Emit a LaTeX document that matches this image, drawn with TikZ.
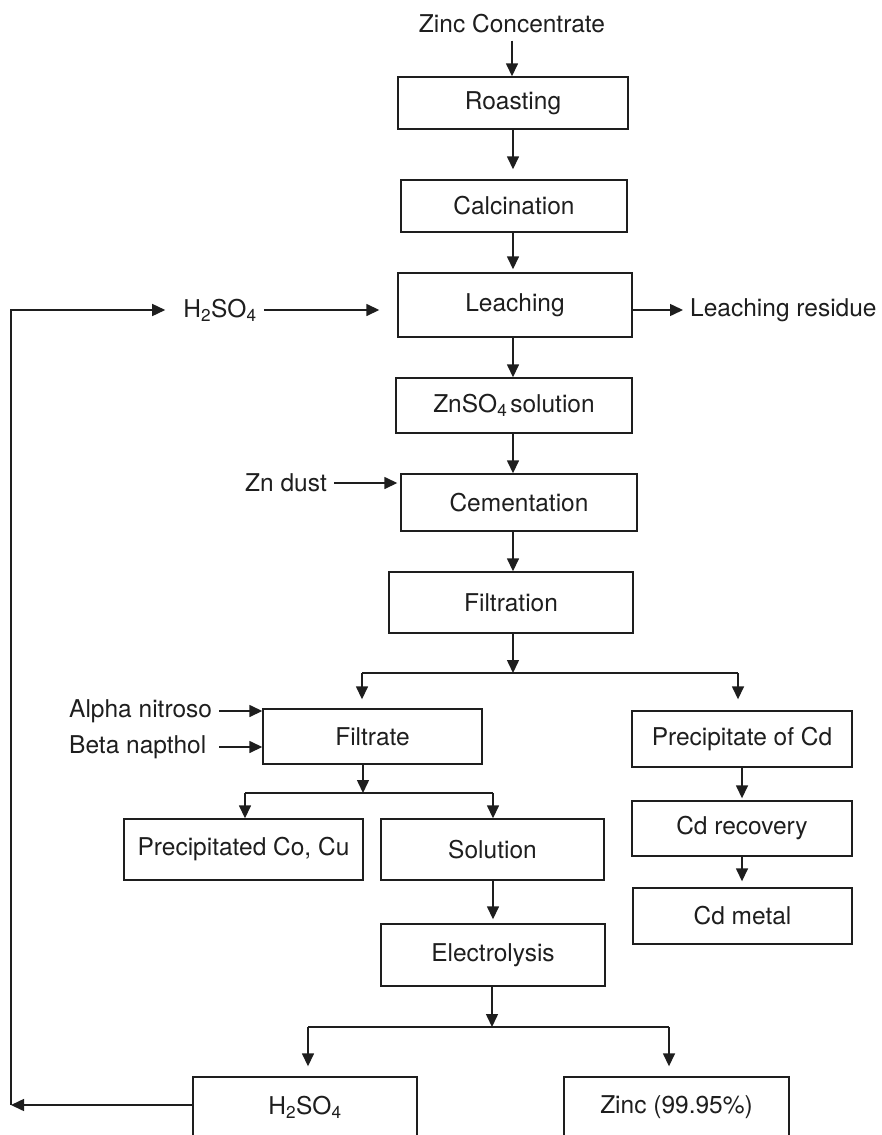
\documentclass[tikz,border=0pt]{standalone}
\usepackage{fontspec}
\setmainfont{TeX Gyre Heros}
\usetikzlibrary{arrows.meta}
\definecolor{ink}{HTML}{1E1E1E}
\begin{document}
\begin{tikzpicture}[x=1pt,y=-1pt,>={Triangle[length=13pt,width=12pt]},
  every node/.style={font=\fontsize{24.5}{28}\selectfont,text=ink},
  box/.style={draw=ink,line width=1.4pt,inner sep=0pt,minimum height=55pt},
  lbl/.style={inner sep=7pt},
  flow/.style={draw=ink,line width=1.5pt}]
\useasboundingbox (0,0) rectangle (882,1135);
\clip (0,0) rectangle (882,1135);
% main column
\node[lbl] (zc) at (512,24) {Zinc Concentrate};
\node[box,minimum width=230pt,minimum height=52pt] (roast) at (513,103) {Roasting};
\node[box,minimum width=226pt,minimum height=52pt] (calc) at (514,206) {Calcination};
\node[box,minimum width=234pt,minimum height=64pt] (leach) at (515,305) {Leaching};
\node[box,minimum width=236pt] (znso) at (514,405.5) {ZnSO\textsubscript{4}\kern3pt solution};
\node[box,minimum width=236pt,minimum height=57pt] (cement) at (519,502.5) {Cementation};
\node[box,minimum width=244pt,minimum height=61pt] (filt) at (511,602.5) {Filtration};
\node[box,minimum width=219pt] (filtrate) at (372.5,736.5) {Filtrate};
\node[box,minimum width=220pt,minimum height=56pt] (pcd) at (742,739) {Precipitate of Cd};
\node[box,minimum width=239pt,minimum height=61pt] (pcocu) at (243.5,849.5) {Precipitated Co, Cu};
\node[box,minimum width=223pt,minimum height=61pt] (soln) at (492.5,849.5) {Solution};
\node[box,minimum width=220pt] (cdrec) at (742,828.5) {Cd recovery};
\node[box,minimum width=219pt,minimum height=56pt] (cdmet) at (742.5,916) {Cd metal};
\node[box,minimum width=224pt,minimum height=62pt] (elec) at (493,955) {Electrolysis};
\node[box,minimum width=224pt,minimum height=61pt] (h2b) at (305,1107.5) {H\textsubscript{2}SO\textsubscript{4}};
\node[box,minimum width=225pt,minimum height=61pt] (zinc) at (676.5,1107.5) {Zinc (99.95\%)};
% side inputs and outputs
\node[lbl] (h2top) at (220,310) {H\textsubscript{2}SO\textsubscript{4}};
\node[lbl,anchor=west] (resid) at (683,310) {Leaching residue};
\node[lbl,anchor=east] (zn) at (334,483) {Zn dust};
\node[lbl,anchor=west] (alpha) at (62,711) {Alpha nitroso};
\node[lbl,anchor=west] (beta) at (62,747) {Beta napthol};
% arrows down the column
\coordinate (col) at (513,0);
\draw[flow,->] (zc.south) -- (zc.south |- roast.north);
\draw[flow,->,shorten >=10pt] (roast.south -| col) -- (calc.north -| col);
\draw[flow,->,shorten >=3pt] (calc.south -| col) -- (leach.north -| col);
\draw[flow,->] (leach.south -| col) -- (znso.north -| col);
\draw[flow,->] (znso.south -| col) -- (cement.north -| col);
\draw[flow,->] (cement.south -| col) -- (filt.north -| col);
\draw[flow,->,shorten >=18pt] (h2top.east) -- (h2top.east -| leach.west);
\draw[flow,->] (leach.east |- resid) -- (resid.west);
\draw[flow,->,shorten >=3pt] (zn.east) -- (zn.east -| cement.west);
\draw[flow,->] (alpha.east) -- (alpha.east -| filtrate.west);
\draw[flow,->] (beta.east -| alpha.east) -- (beta.east -| filtrate.west);
% filtration split
\coordinate (fb) at (513,673);
\coordinate (fl) at (362,673);
\coordinate (fr) at (738,673);
\draw[flow,->] (filt.south -| fb) -- (fb);
\draw[flow] (fl) -- (fr);
\draw[flow,->,shorten >=9pt] (fl) -- (fl |- filtrate.north);
\draw[flow,->,shorten >=11pt] (fr) -- (fr |- pcd.north);
\draw[flow,->,shorten >=2pt] (pcd.south) -- (pcd.south |- cdrec.north);
\draw[flow,->,shorten >=6pt] (cdrec.south) -- (cdrec.south |- cdmet.north);
% filtrate split
\coordinate (tb) at (363,793);
\coordinate (tl) at (245,793);
\coordinate (tr) at (493,793);
\draw[flow,->] (filtrate.south -| tb) -- (tb);
\draw[flow] (tl) -- (tr);
\draw[flow,->] (tl) -- (tl |- pcocu.north);
\draw[flow,->] (tr) -- (tr |- soln.north);
\draw[flow,->,shorten >=4pt] (soln.south -| tr) -- (elec.north -| tr);
% electrolysis split
\coordinate (eb) at (492,1027);
\coordinate (el) at (308,1027);
\coordinate (er) at (669,1027);
\draw[flow,->] (elec.south -| eb) -- (eb);
\draw[flow] (el) -- (er);
\draw[flow,->,shorten >=10pt] (el) -- (el |- h2b.north);
\draw[flow,->,shorten >=10pt] (er) -- (er |- zinc.north);
% acid recycle
\coordinate (ret) at (11,1105);
\draw[flow,->] (h2b.west |- ret) -- (ret);
\draw[flow,->,shorten >=11pt] (ret) |- (h2top.west);
\end{tikzpicture}
\end{document}
